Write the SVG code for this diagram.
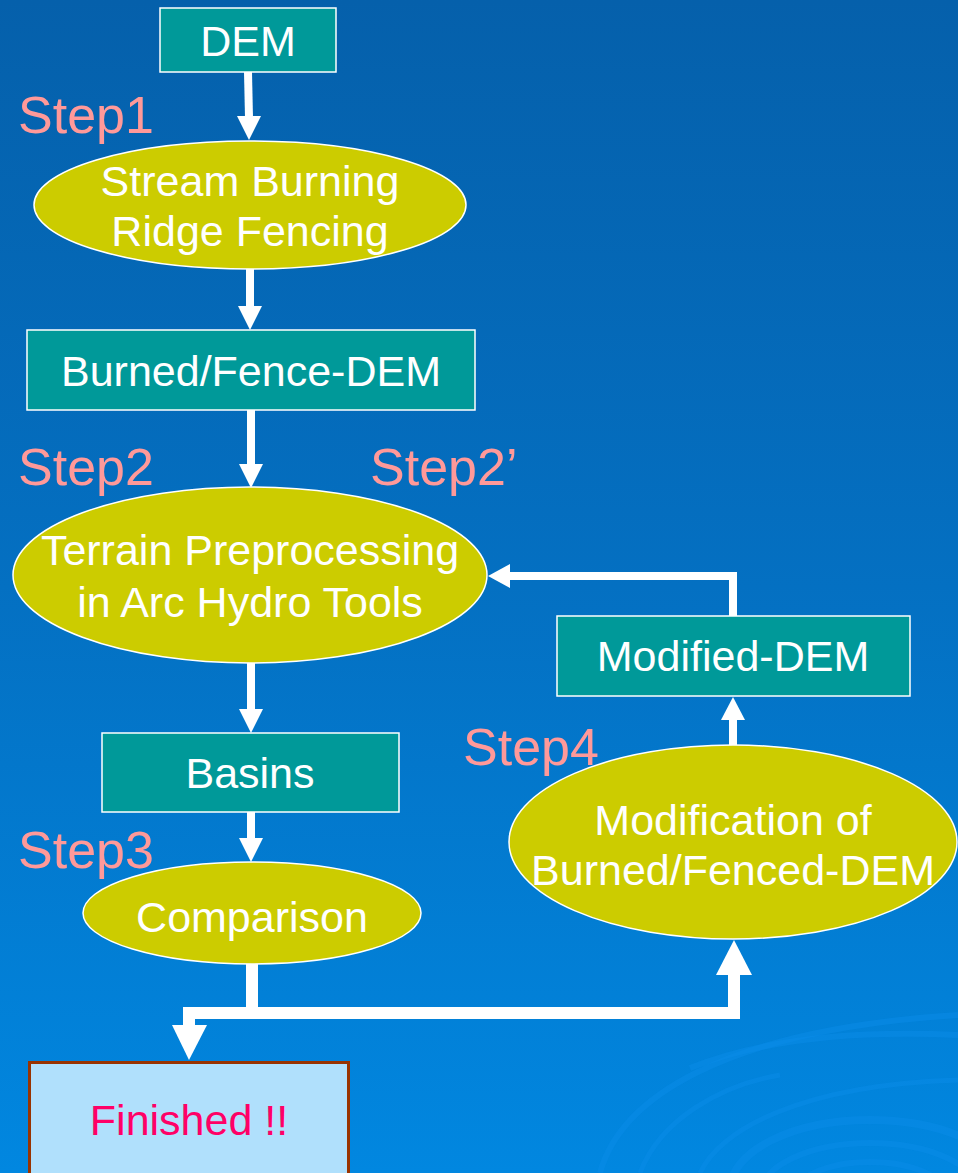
<svg xmlns="http://www.w3.org/2000/svg" width="958" height="1173" viewBox="0 0 958 1173">
<defs>
<linearGradient id="bg" x1="0" y1="0" x2="0" y2="1">
<stop offset="0" stop-color="#0560AB"/>
<stop offset="0.5" stop-color="#0470C2"/>
<stop offset="1" stop-color="#0187E0"/>
</linearGradient>
<style>
.box{fill:#009999;stroke:#ffffff;stroke-width:1.5}
.ell{fill:#CCCC00;stroke:#ffffff;stroke-width:1.5}
.t{font-family:"Liberation Sans",Arial,sans-serif;font-size:43px;fill:#ffffff;text-anchor:middle}
.step{font-family:"Liberation Sans",Arial,sans-serif;font-size:52px;fill:#FF9999}
.ln{fill:none;stroke:#ffffff}
.ah{fill:#ffffff}
.sw{fill:none;stroke:#0A8CE8;stroke-opacity:0.5}
</style>
</defs>
<rect x="0" y="0" width="958" height="1173" fill="url(#bg)"/>
<g id="swirl">
<path class="sw" stroke-width="6" d="M600 1173 C 620 1100, 720 1030, 958 1015"/>
<path class="sw" stroke-width="6" d="M690 1068 C 760 1040, 850 1030, 958 1035"/>
<path class="sw" stroke-width="5" d="M640 1173 C 660 1120, 720 1085, 780 1075"/>
<path class="sw" stroke-width="5" d="M700 1173 C 720 1130, 800 1085, 958 1080"/>
<ellipse class="sw" stroke-width="8" cx="870" cy="1190" rx="140" ry="70" stroke="#0478CC"/>
<ellipse class="sw" stroke-width="6" cx="870" cy="1195" rx="110" ry="52" stroke="#0478CC"/>
<ellipse class="sw" stroke-width="6" cx="870" cy="1200" rx="80" ry="38" stroke="#0478CC"/>
</g>
<g id="connectors">
<path class="ln" stroke-width="8" d="M248 72 L249 118"/>
<polygon class="ah" points="237,116 261,116 249,140"/>
<path class="ln" stroke-width="8" d="M250 269 L250 308"/>
<polygon class="ah" points="238,306 262,306 250,330"/>
<path class="ln" stroke-width="8" d="M251 410 L251 466"/>
<polygon class="ah" points="239,464 263,464 251,488"/>
<path class="ln" stroke-width="8" d="M251 663 L251 711"/>
<polygon class="ah" points="239,709 263,709 251,733"/>
<path class="ln" stroke-width="8" d="M251 812 L251 840"/>
<polygon class="ah" points="239,838 263,838 251,862"/>
<path class="ln" stroke-width="12" d="M252 964 L252 1013 L189 1013 L189 1030"/>
<polygon class="ah" points="172,1025 207,1025 189,1060"/>
<path class="ln" stroke-width="12" d="M246 1013 L734 1013 L734 972"/>
<polygon class="ah" points="716,975 752,975 734,940"/>
<path class="ln" stroke-width="8" d="M733 745 L733 718"/>
<polygon class="ah" points="721,720 745,720 733,697"/>
<path class="ln" stroke-width="8" d="M733 616 L733 576 L508 576"/>
<polygon class="ah" points="510,564 510,588 488,576"/>
</g>
<g id="labels">
<text class="step" x="18" y="133">Step1</text>
<text class="step" x="18" y="485">Step2</text>
<text class="step" x="370" y="485">Step2’</text>
<text class="step" x="18" y="868">Step3</text>
<text class="step" x="463" y="765">Step4</text>
</g>
<g id="n-dem">
<rect class="box" x="160" y="8" width="176" height="64"/>
<text class="t" x="248" y="56">DEM</text>
</g>
<g id="n-burn">
<ellipse class="ell" cx="250" cy="205" rx="216" ry="64"/>
<text class="t" x="250" y="196">Stream Burning</text>
<text class="t" x="250" y="246">Ridge Fencing</text>
</g>
<g id="n-burned-dem">
<rect class="box" x="27" y="330" width="448" height="80"/>
<text class="t" x="251" y="386">Burned/Fence-DEM</text>
</g>
<g id="n-terrain">
<ellipse class="ell" cx="250" cy="575" rx="237" ry="88"/>
<text class="t" x="250" y="565">Terrain Preprocessing</text>
<text class="t" x="250" y="617">in Arc Hydro Tools</text>
</g>
<g id="n-basins">
<rect class="box" x="102" y="733" width="297" height="79"/>
<text class="t" x="250" y="788">Basins</text>
</g>
<g id="n-comparison">
<ellipse class="ell" cx="252" cy="913" rx="169" ry="51"/>
<text class="t" x="252" y="932">Comparison</text>
</g>
<g id="n-modified-dem">
<rect class="box" x="557" y="616" width="353" height="80"/>
<text class="t" x="733" y="671">Modified-DEM</text>
</g>
<g id="n-modification">
<ellipse class="ell" cx="733" cy="842" rx="224" ry="97"/>
<text class="t" x="733" y="835">Modification of</text>
<text class="t" x="733" y="885">Burned/Fenced-DEM</text>
</g>
<g id="n-finished">
<rect x="29.5" y="1062.5" width="319" height="112" fill="#B0E0FC" stroke="#993300" stroke-width="3"/>
<text class="t" x="189" y="1135" style="fill:#FF0066">Finished !!</text>
</g>
</svg>
